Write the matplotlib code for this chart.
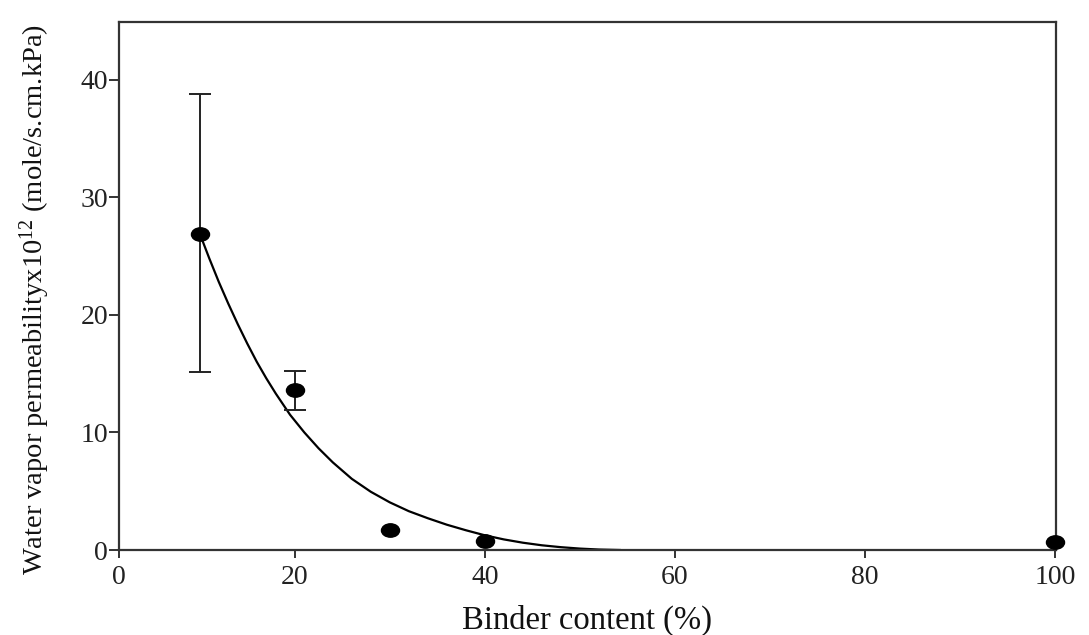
import matplotlib
matplotlib.use("Agg")
import matplotlib.pyplot as plt
from matplotlib.path import Path
from matplotlib.transforms import Affine2D

# ---- data ----
binder = [10, 20, 30, 40, 100]
permeability = [26.9, 13.6, 1.7, 0.8, 0.7]
err_low = [11.8, 1.7, 0.0, 0.0, 0.0]
err_high = [11.9, 1.6, 0.0, 0.0, 0.0]

# fitted curve, points
fit_x = [10, 11, 12, 13, 14, 15, 16, 17, 18, 19.5, 21, 22.5, 24, 26, 28, 30,
         32, 34, 36, 38, 40, 42, 44, 46, 48, 50, 52, 54.2]
fit_y = [26.9, 24.8, 22.8, 20.95, 19.2, 17.55, 16.0, 14.6, 13.3, 11.5, 10.0, 8.65,
         7.45, 6.05, 4.95, 4.05, 3.3, 2.7, 2.15, 1.68, 1.25, 0.9, 0.62, 0.4, 0.24,
         0.12, 0.04, 0.0]

xtick_labels = ["0", "20", "40", "60", "80", "100"]
ytick_values = [0, 10, 20, 30, 40]

plt.rcParams["font.family"] = ["Liberation Serif", "DejaVu Serif"]
plt.rcParams["mathtext.fontset"] = "custom"
plt.rcParams["mathtext.rm"] = "Liberation Serif"
plt.rcParams["mathtext.it"] = "Liberation Serif:italic"

fig = plt.figure(figsize=(10.89, 6.35), dpi=100)
ax = fig.add_axes([119/1089, 1-550/635, (1056-119)/1089, (550-22)/635])

spine_col = "#333333"
for s in ax.spines.values():
    s.set_color(spine_col)
    s.set_linewidth(1.6)

# elliptical marker
ell = Path.unit_circle().transformed(Affine2D().scale(1.35, 1.0))

ax.plot(fit_x, fit_y, color="black", lw=1.6, zorder=2, solid_joinstyle="round")

# error bars only where an error was drawn in the reference
eb_idx = [i for i in range(len(binder)) if err_low[i] > 0 or err_high[i] > 0]
ax.errorbar([binder[i] for i in eb_idx], [permeability[i] for i in eb_idx],
            yerr=[[err_low[i] for i in eb_idx], [err_high[i] for i in eb_idx]],
            fmt="none", ecolor="#222222", elinewidth=1.4, capsize=8, capthick=1.4,
            zorder=3)
ax.plot(binder, permeability, linestyle="none", marker=ell, markersize=13,
        color="black", zorder=4, clip_on=False)

x0 = 1.5
ax.set_xlim(x0, 100.1)
ax.set_ylim(0, 44.9)
ax.set_xticks([x0, 20, 40, 60, 80, 100])
ax.set_xticklabels(xtick_labels)
ax.set_yticks(ytick_values)
ax.tick_params(axis="x", direction="out", length=5.5, width=1.4, color=spine_col,
               labelsize=20, pad=5, labelcolor="#222222")
ax.tick_params(axis="y", direction="out", length=7, width=1.4, color=spine_col,
               labelsize=20, pad=1, labelcolor="#222222")

ax.set_xlabel("Binder content (%)", fontsize=23.5, labelpad=11, color="#111111")
ax.set_ylabel(r"Water vapor permeabilityx10$^{12}$ (mole/s.cm.kPa)", fontsize=20.5,
              color="#111111")
ax.yaxis.set_label_coords(-0.072, 0.475)

fig.savefig("out.png", dpi=100)
